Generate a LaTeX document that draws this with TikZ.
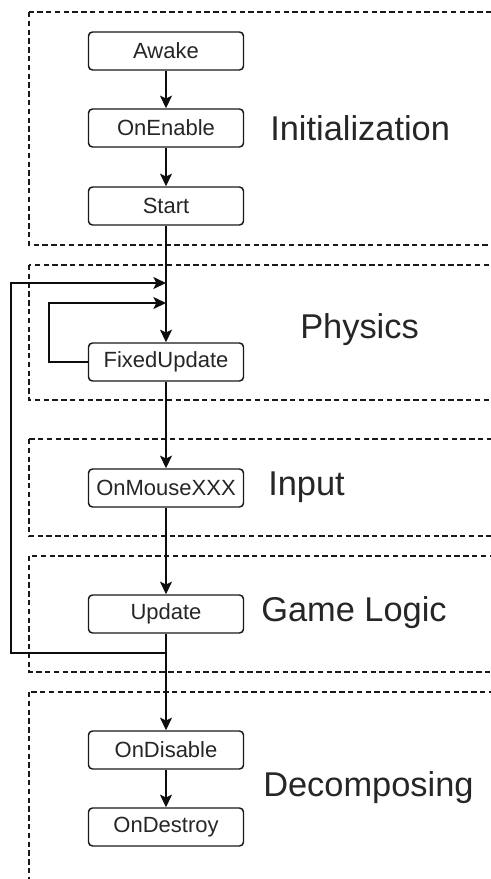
\documentclass[tikz,border=0pt]{standalone}
\usepackage{fontspec}
\setmainfont{Liberation Sans}
\usetikzlibrary{arrows.meta}
\begin{document}
\begin{tikzpicture}[x=0.75pt,y=-0.75pt,
  box/.style={draw=black!90, line width=1.1pt, rounded corners=3pt, minimum width=116.25pt, minimum height=28.5pt, inner sep=0pt, text=black!85, font=\fontsize{16.5pt}{18pt}\selectfont},
  lbl/.style={anchor=west, inner sep=0pt, text=black!85, font=\fontsize{25.8pt}{28pt}\selectfont},
  grp/.style={draw=black!90, line width=0.8pt, dash pattern=on 4pt off 2.6pt},
  arr/.style={draw=black!95, line width=1.1pt, -{Stealth[length=9.5pt, width=9pt, inset=2.2pt]}},
  ln/.style={draw=black!95, line width=1.1pt}]
\useasboundingbox (0,0) rectangle (491,879);
\clip (0,0) rectangle (491,879);
\fill[white] (0,0) rectangle (491,879);
% groups
\draw[grp] (29,12) rectangle (520,245);
\draw[grp] (29,265) rectangle (520,400);
\draw[grp] (29,439) rectangle (520,536);
\draw[grp] (29,556) rectangle (520,672);
\draw[grp] (29,692) rectangle (520,900);
% nodes
\node[box] (awake) at (166,51) {Awake};
\node[box] (enable) at (166,128) {OnEnable};
\node[box] (start) at (166,206) {Start};
\node[box] (fu) at (166,362) {FixedUpdate};
\node[box] (mouse) at (166,488) {OnMouseXXX};
\node[box] (upd) at (166,614) {Update};
\node[box] (dis) at (166,750) {OnDisable};
\node[box] (des) at (166,827) {OnDestroy};
% labels
\node[lbl] (l1) at (270,128) {Initialization};
\node[lbl] (l2) at (300,330) {Physics};
\node[lbl] (l3) at (268,487) {Input};
\node[lbl] (l4) at (261,613) {Game Logic};
\node[lbl] (l5) at (263,788) {Decomposing};
% coordinates
\coordinate (ot) at (166,283);
\coordinate (it) at (166,303);
\coordinate (ob) at (166,653);
\coordinate (ol) at (11,653);
\coordinate (il) at (49,362);
% connectors
\draw[arr] (awake) -- (enable);
\draw[arr] (enable) -- (start);
\draw[arr] (start) -- (fu);
\draw[arr] (fu) -- (mouse);
\draw[arr] (mouse) -- (upd);
\draw[arr] (upd) -- (dis);
\draw[arr] (dis) -- (des);
\draw[arr] (ob) -- (ol) |- (ot);
\draw[arr] (fu.west) -- (il) |- (it);
\end{tikzpicture}
\end{document}
